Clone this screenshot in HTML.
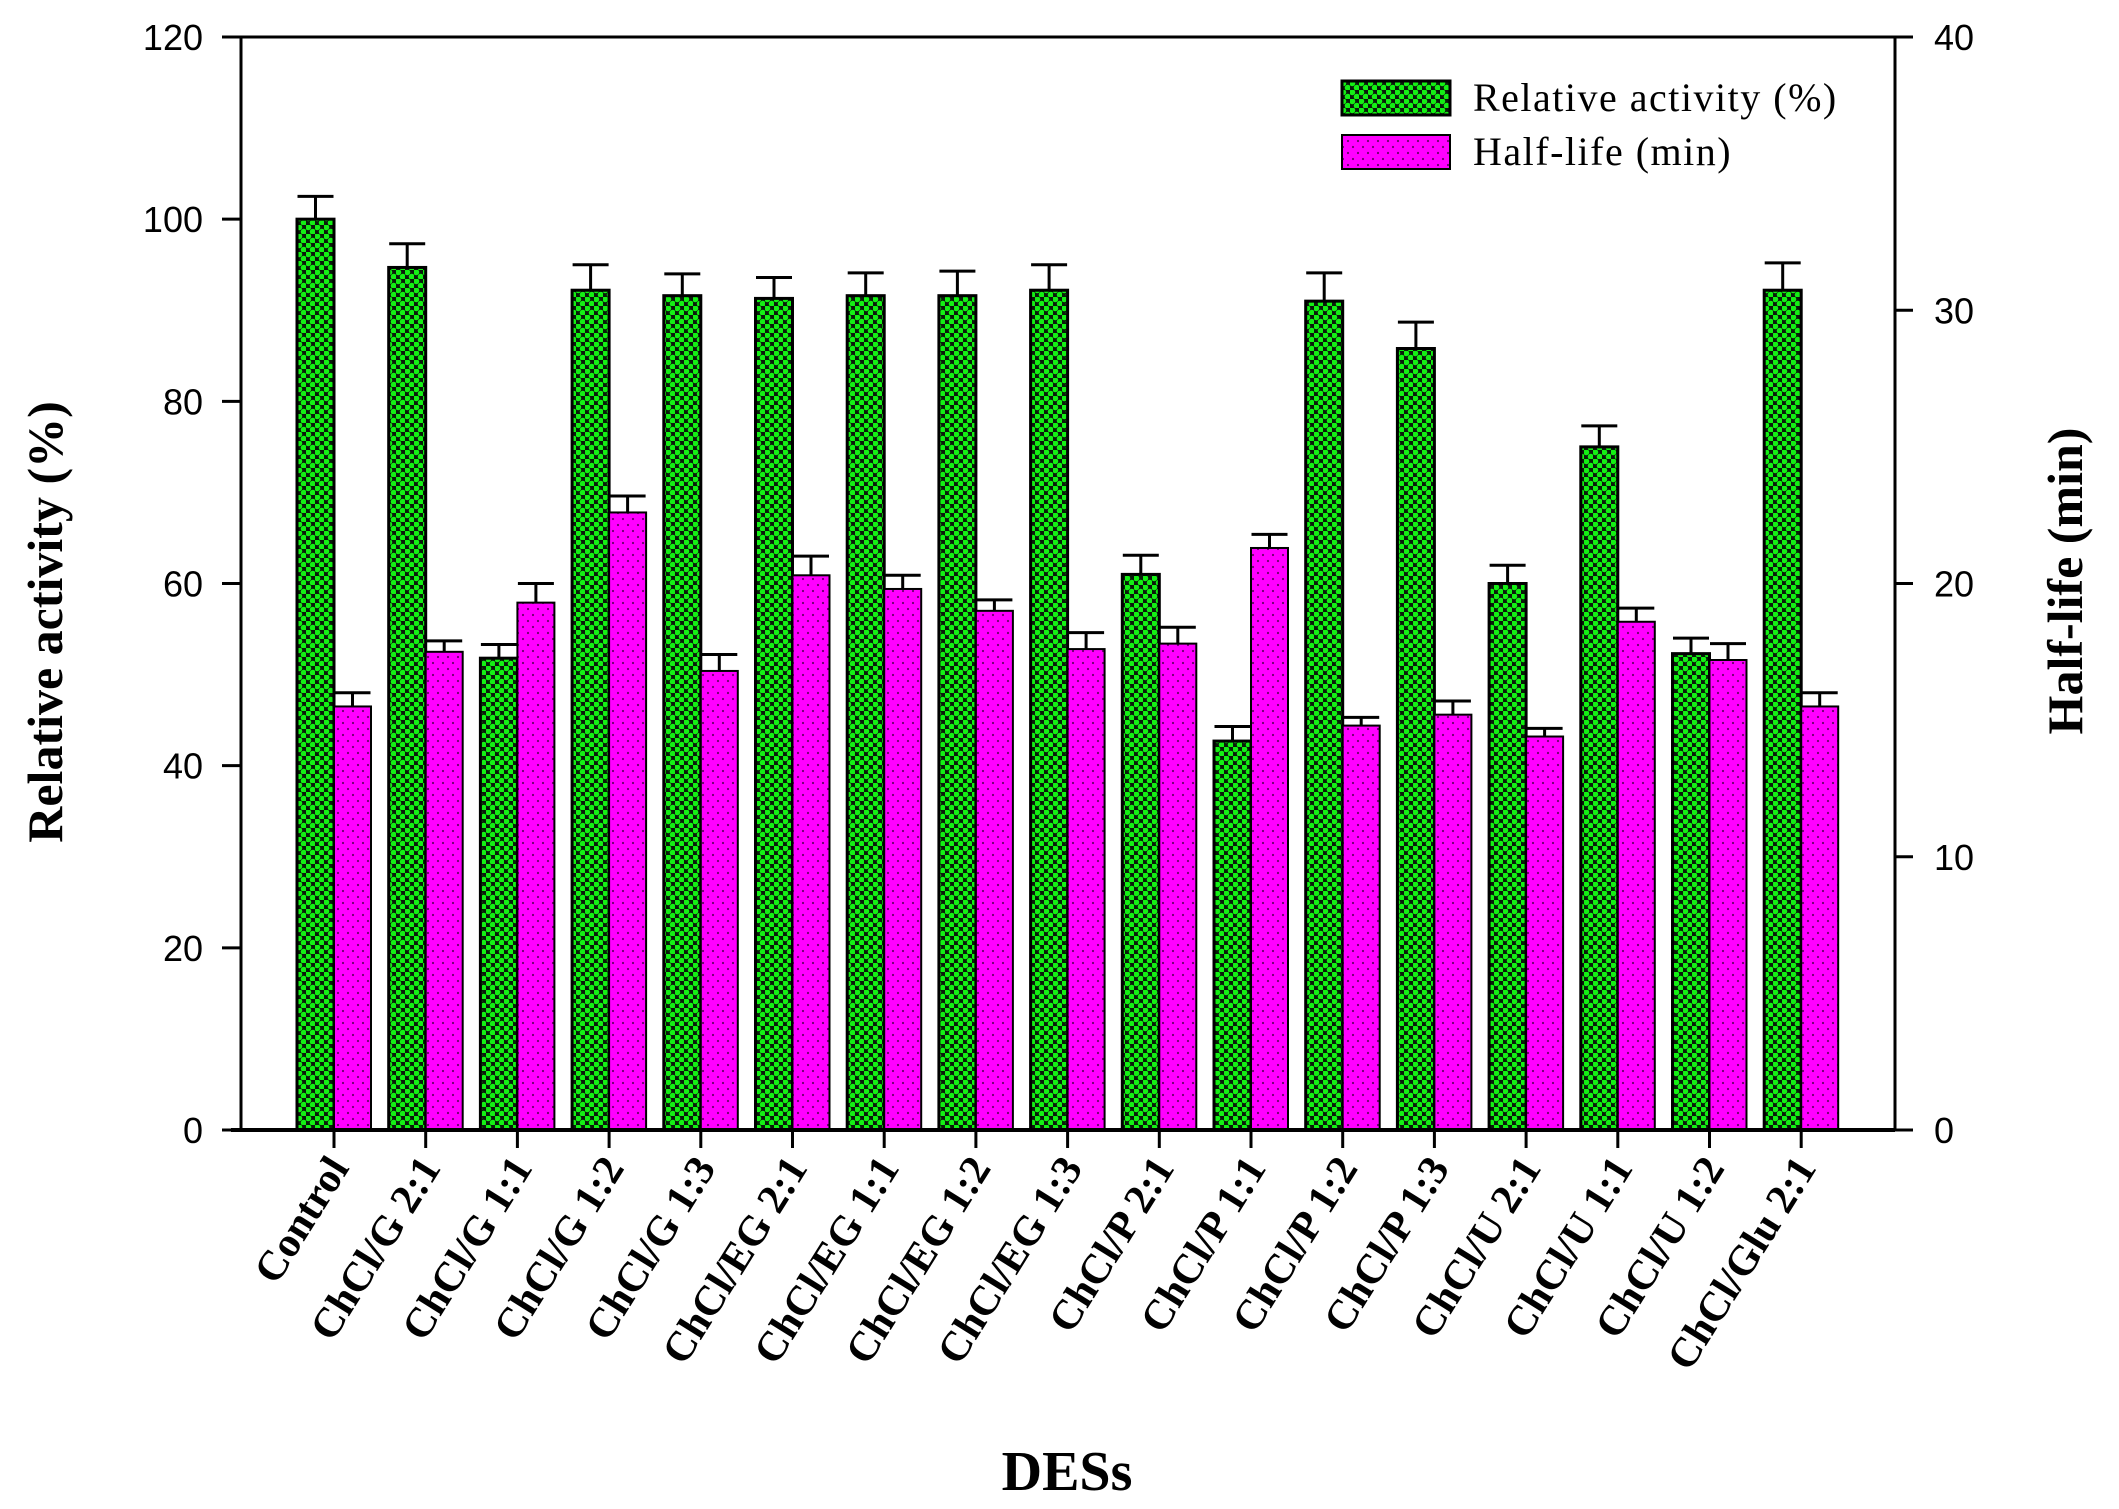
<!DOCTYPE html>
<html><head><meta charset="utf-8"><style>
html,body{margin:0;padding:0;background:#fff;}
svg{display:block;}
.tk{font-family:"Liberation Sans",Arial,sans-serif;font-size:36px;fill:#000;}
.ser{font-family:"Liberation Serif","Times New Roman",serif;fill:#000;}
</style></head><body>
<svg id="chart" width="2119" height="1509" viewBox="0 0 2119 1509" xmlns="http://www.w3.org/2000/svg">
<defs>
<pattern id="pg" width="9" height="9" patternUnits="userSpaceOnUse">
<rect width="9" height="9" fill="#0a1a0a"/>
<circle cx="2.25" cy="2.25" r="3.0" fill="#14f014"/>
<circle cx="6.75" cy="6.75" r="3.0" fill="#14f014"/>
</pattern>
<pattern id="pp" width="10" height="12" patternUnits="userSpaceOnUse">
<rect width="10" height="12" fill="#ff00ff"/>
<circle cx="3" cy="3" r="1.1" fill="#6a006a"/>
<circle cx="8" cy="9" r="1.1" fill="#6a006a"/>
</pattern>
</defs>
<g id="plot"></g>
</svg>
<script>
const categories=["Control","ChCl/G 2:1","ChCl/G 1:1","ChCl/G 1:2","ChCl/G 1:3","ChCl/EG 2:1","ChCl/EG 1:1","ChCl/EG 1:2","ChCl/EG 1:3","ChCl/P 2:1","ChCl/P 1:1","ChCl/P 1:2","ChCl/P 1:3","ChCl/U 2:1","ChCl/U 1:1","ChCl/U 1:2","ChCl/Glu 2:1"];
const activity=[100,94.7,51.8,92.2,91.6,91.3,91.6,91.6,92.2,61,42.7,91,85.8,60,75,52.3,92.2];
const activityErr=[2.5,2.6,1.5,2.8,2.4,2.3,2.5,2.7,2.8,2.1,1.6,3.1,2.9,2,2.3,1.7,3];
const halfLife=[15.5,17.5,19.3,22.6,16.8,20.3,19.8,19.0,17.6,17.8,21.3,14.8,15.2,14.4,18.6,17.2,15.5];
const halfLifeErr=[0.5,0.4,0.7,0.6,0.6,0.7,0.5,0.4,0.6,0.6,0.5,0.3,0.5,0.3,0.5,0.6,0.5];
const leftTicks=[0,20,40,60,80,100,120];
const rightTicks=[0,10,20,30,40];

const NS="http://www.w3.org/2000/svg";
const g=document.getElementById('plot');
const X0=241,X1=1895,Y0=1130,Y1=37;
const yL=v=>Y0-(v/120)*(Y0-Y1);
const yR=v=>Y0-(v/40)*(Y0-Y1);
const xC=i=>X0+93+i*91.7;
const BW=37;
function mk(tag,attrs,parent){const e=document.createElementNS(NS,tag);for(const k in attrs)e.setAttribute(k,attrs[k]);(parent||g).appendChild(e);return e;}

categories.forEach((c,i)=>{
  const cx=xC(i);
  const ya=yL(activity[i]);
  const b1=mk('rect',{x:cx-BW,y:ya,width:BW,height:Y0-ya,fill:'url(#pg)',stroke:'#000','stroke-width':3});
  
  
  const ye=yL(activity[i]+activityErr[i]);
  const e1=mk('path',{d:`M${cx-BW/2},${ya}V${ye}M${cx-BW/2-18},${ye}H${cx-BW/2+18}`,stroke:'#000','stroke-width':3,fill:'none'});
  
  
  const yh=yR(halfLife[i]);
  const b2=mk('rect',{x:cx,y:yh,width:BW,height:Y0-yh,fill:'url(#pp)',stroke:'#000','stroke-width':2});
  
  
  const ye2=yR(halfLife[i]+halfLifeErr[i]);
  const e2=mk('path',{d:`M${cx+BW/2},${yh}V${ye2}M${cx+BW/2-18},${ye2}H${cx+BW/2+18}`,stroke:'#000','stroke-width':3,fill:'none'});
  
  
  const t=mk('line',{x1:cx,y1:Y0,x2:cx,y2:Y0+18,stroke:'#000','stroke-width':3});
  
  
  const lb=mk('text',{class:'ser',x:0,y:0,'font-size':42,'font-weight':'bold','text-anchor':'end',transform:`translate(${cx+16},${Y0+38}) rotate(-58)`});
  lb.textContent=c;
  
  
});
const fr=mk('path',{d:`M${X0},${Y1}H${X1}V${Y0}H${X0}Z`,fill:'none',stroke:'#000','stroke-width':3});


const xa=mk('line',{x1:X0-10,y1:Y0,x2:X1,y2:Y0,stroke:'#000','stroke-width':4});


leftTicks.forEach(v=>{
  const y=yL(v);
  const l=mk('line',{x1:X0-19,y1:y,x2:X0,y2:y,stroke:'#000','stroke-width':3});
  
  
  const t=mk('text',{class:'tk',x:203,y:y+13,'text-anchor':'end'});
  t.textContent=v;
  
  
});
rightTicks.forEach(v=>{
  const y=yR(v);
  const l=mk('line',{x1:X1,y1:y,x2:X1+18,y2:y,stroke:'#000','stroke-width':3});
  
  
  const t=mk('text',{class:'tk',x:1934,y:y+13,'text-anchor':'start'});
  t.textContent=v;
  
  
});
let t=mk('text',{class:'ser','font-size':50,'font-weight':'bold','text-anchor':'middle',transform:'translate(62,622) rotate(-90)'});
t.textContent='Relative activity (%)';


t=mk('text',{class:'ser','font-size':50,'font-weight':'bold','text-anchor':'middle',transform:'translate(2082,581) rotate(-90)'});
t.textContent='Half-life (min)';


t=mk('text',{class:'ser','font-size':56,'font-weight':'bold','text-anchor':'middle',x:1067,y:1490});
t.textContent='DESs';


let r=mk('rect',{x:1342,y:81,width:108,height:34,fill:'url(#pg)',stroke:'#000','stroke-width':3});


t=mk('text',{class:'ser','font-size':40,'letter-spacing':1.5,x:1473,y:111});
t.textContent='Relative activity (%)';


r=mk('rect',{x:1342,y:135,width:108,height:34,fill:'url(#pp)',stroke:'#000','stroke-width':2});


t=mk('text',{class:'ser','font-size':40,'letter-spacing':1.5,x:1473,y:165});
t.textContent='Half-life (min)';


</script>
</body></html>
